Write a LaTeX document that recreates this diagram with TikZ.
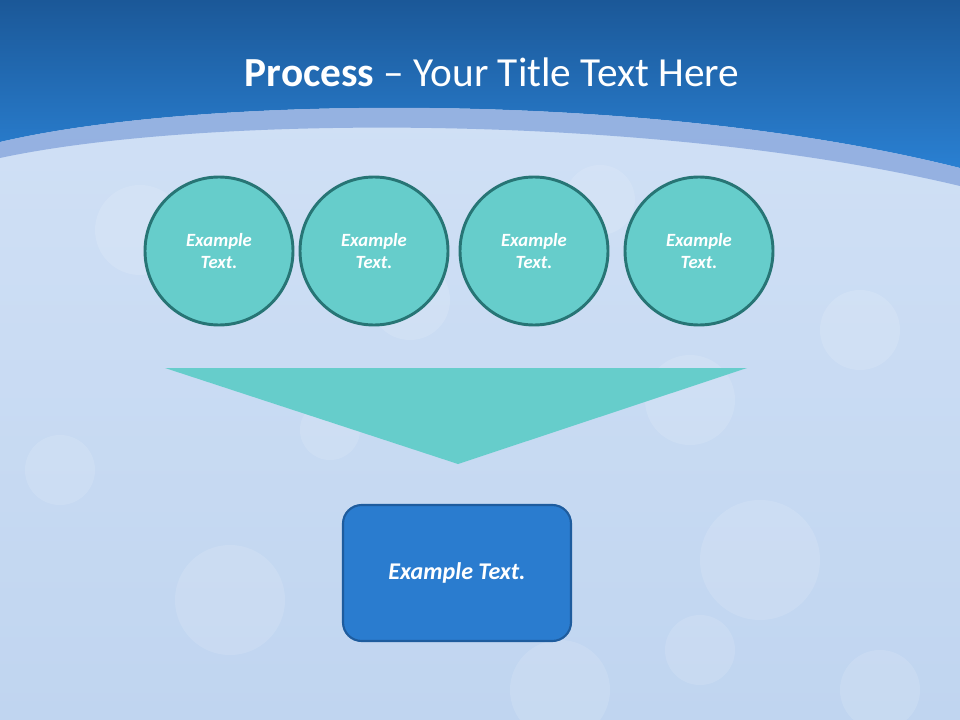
\documentclass[tikz,border=0pt]{standalone}
\usepackage{fontspec}
\setmainfont{Carlito}
\definecolor{hdrTop}{HTML}{1B5898}
\definecolor{hdrBot}{HTML}{2A80D2}
\definecolor{bandC}{HTML}{8FADDF}
\definecolor{bgTop}{HTML}{D3E2F6}
\definecolor{bgBot}{HTML}{C0D5F0}
\definecolor{tealFill}{HTML}{66CDCB}
\definecolor{tealLine}{HTML}{277575}
\definecolor{boxFill}{HTML}{2A7CCF}
\definecolor{boxLine}{HTML}{1E5C9E}
\tikzset{
  stagecircle/.style={circle, draw=tealLine, line width=2.2pt, fill=tealFill,
    minimum size=111pt, inner sep=0pt, text=white, align=center,
    font=\fontsize{14pt}{17pt}\selectfont\bfseries\itshape},
  resultbox/.style={rectangle, rounded corners=14pt, draw=boxLine, line width=1.6pt,
    fill=boxFill, minimum width=171pt, minimum height=102pt, text=white,
    font=\fontsize{18pt}{22pt}\selectfont\bfseries\itshape},
  bokeh/.style={fill=white, opacity=0.12}
}
\begin{document}
\begin{tikzpicture}[x=0.75pt,y=-0.75pt]
\useasboundingbox (0,0) rectangle (960,720);
% background
\shade[top color=bgTop, bottom color=bgBot] (0,0) rectangle (960,720);
% bokeh texture
\foreach \cx/\cy/\r in {140/230/45, 410/300/40, 600/200/35, 690/400/45, 230/600/55, 560/690/50, 760/560/60, 860/330/40, 60/470/35, 330/430/30, 880/690/40, 700/650/35}{
  \fill[bokeh] (\cx,\cy) circle[radius=\r*0.75pt];
}
% header blue region
\shade[top color=hdrTop, bottom color=hdrBot]
  (0,0) -- (960,0) -- (960,168) .. controls (650,90) and (200,95) .. (0,142) -- cycle;
% light band
\fill[bandC, opacity=0.9]
  (0,142) .. controls (200,95) and (650,90) .. (960,168) -- (960,186)
  .. controls (650,112) and (200,115) .. (0,158) -- cycle;
% title
\node[text=white, anchor=base, font=\fontsize{31pt}{35pt}\selectfont] (title) at (492,87)
  {\textbf{Process} -- Your Title Text Here};
% circles
\node[stagecircle] (c1) at (219,251) {Example\\Text.};
\node[stagecircle] (c2) at (374,251) {Example\\Text.};
\node[stagecircle] (c3) at (534,251) {Example\\Text.};
\node[stagecircle] (c4) at (699,251) {Example\\Text.};
% funnel triangle
\fill[tealFill] (165,368) -- (747,368) -- (458,464) -- cycle;
% result box
\node[resultbox] (res) at (457,573) {Example Text.};
\end{tikzpicture}
\end{document}
